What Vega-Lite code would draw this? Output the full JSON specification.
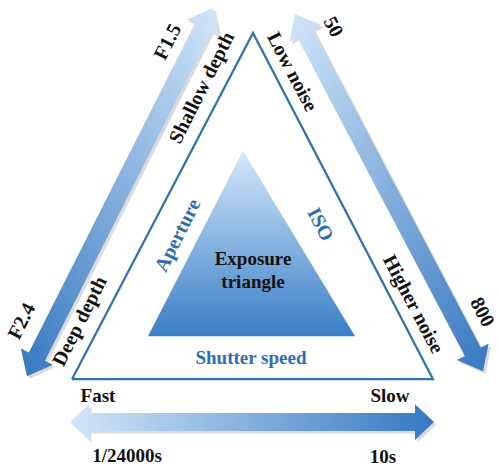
{
  "$schema": "https://vega.github.io/schema/vega-lite/v6.json",
  "width": 499,
  "height": 467,
  "autosize": {"type": "fit", "contains": "padding"},
  "padding": 0,
  "background": "white",
  "config": {"view": {"stroke": null}},
  "datasets": {
    "shapes": [
      {"shape": "outer", "i": 0, "x": 72, "y": 380},
      {"shape": "outer", "i": 1, "x": 253, "y": 33},
      {"shape": "outer", "i": 2, "x": 433, "y": 380},
      {"shape": "outer", "i": 3, "x": 72, "y": 380},
      {"shape": "inner", "i": 0, "x": 148, "y": 337},
      {"shape": "inner", "i": 1, "x": 243, "y": 151},
      {"shape": "inner", "i": 2, "x": 355, "y": 337},
      {"shape": "inner", "i": 3, "x": 148, "y": 337}
    ],
    "arrows": [
      {"arrow": "aperture", "i": 1, "x": 27, "y": 377},
      {"arrow": "aperture", "i": 2, "x": 52.97, "y": 365.45},
      {"arrow": "aperture", "i": 3, "x": 44.94, "y": 361.4},
      {"arrow": "aperture", "i": 4, "x": 211.14, "y": 31.7},
      {"arrow": "aperture", "i": 5, "x": 219.17, "y": 35.75},
      {"arrow": "aperture", "i": 6, "x": 213, "y": 8},
      {"arrow": "aperture", "i": 7, "x": 187.03, "y": 19.55},
      {"arrow": "aperture", "i": 8, "x": 195.06, "y": 23.6},
      {"arrow": "aperture", "i": 9, "x": 28.86, "y": 353.3},
      {"arrow": "aperture", "i": 10, "x": 20.83, "y": 349.25},
      {"arrow": "aperture", "i": 11, "x": 27, "y": 377},
      {"arrow": "iso", "i": 1, "x": 295, "y": 14},
      {"arrow": "iso", "i": 2, "x": 289.29, "y": 41.85},
      {"arrow": "iso", "i": 3, "x": 297.26, "y": 37.66},
      {"arrow": "iso", "i": 4, "x": 464.8, "y": 356.7},
      {"arrow": "iso", "i": 5, "x": 456.83, "y": 360.89},
      {"arrow": "iso", "i": 6, "x": 483, "y": 372},
      {"arrow": "iso", "i": 7, "x": 488.71, "y": 344.15},
      {"arrow": "iso", "i": 8, "x": 480.74, "y": 348.34},
      {"arrow": "iso", "i": 9, "x": 313.2, "y": 29.3},
      {"arrow": "iso", "i": 10, "x": 321.17, "y": 25.11},
      {"arrow": "iso", "i": 11, "x": 295, "y": 14},
      {"arrow": "shutter", "i": 1, "x": 70, "y": 423},
      {"arrow": "shutter", "i": 2, "x": 89, "y": 441},
      {"arrow": "shutter", "i": 3, "x": 89, "y": 432},
      {"arrow": "shutter", "i": 4, "x": 415, "y": 432},
      {"arrow": "shutter", "i": 5, "x": 415, "y": 441},
      {"arrow": "shutter", "i": 6, "x": 434, "y": 423},
      {"arrow": "shutter", "i": 7, "x": 415, "y": 405},
      {"arrow": "shutter", "i": 8, "x": 415, "y": 414},
      {"arrow": "shutter", "i": 9, "x": 89, "y": 414},
      {"arrow": "shutter", "i": 10, "x": 89, "y": 405},
      {"arrow": "shutter", "i": 11, "x": 70, "y": 423}
    ],
    "labels": [
      {"text": "F1.5", "x": 168, "y": 42, "side": "left", "role": "label"},
      {"text": "Shallow depth", "x": 202, "y": 88, "side": "left", "role": "label"},
      {"text": "Deep depth", "x": 80, "y": 322, "side": "left", "role": "label"},
      {"text": "F2.4", "x": 22, "y": 322, "side": "left", "role": "label"},
      {"text": "Aperture", "x": 178, "y": 236, "side": "left", "role": "factor"},
      {"text": "50", "x": 333, "y": 27, "side": "right", "role": "label"},
      {"text": "Low noise", "x": 292, "y": 72, "side": "right", "role": "label"},
      {"text": "Higher noise", "x": 413, "y": 305, "side": "right", "role": "label"},
      {"text": "800", "x": 482, "y": 313, "side": "right", "role": "label"},
      {"text": "ISO", "x": 320, "y": 225, "side": "right", "role": "factor"},
      {"text": "Fast", "x": 98, "y": 397, "side": "base", "role": "label"},
      {"text": "Slow", "x": 390, "y": 397, "side": "base", "role": "label"},
      {"text": "1/24000s", "x": 127, "y": 457, "side": "base", "role": "label"},
      {"text": "10s", "x": 383, "y": 458, "side": "base", "role": "label"},
      {"text": "Exposure", "x": 253, "y": 260, "side": "base", "role": "label"},
      {"text": "triangle", "x": 253, "y": 283, "side": "base", "role": "label"},
      {"text": "Shutter speed", "x": 251, "y": 359, "side": "base", "role": "factor"}
    ]
  },
  "encoding": {
    "x": {"field": "x", "type": "quantitative", "scale": {"domain": [0, 499], "nice": false, "zero": false}, "axis": null},
    "y": {"field": "y", "type": "quantitative", "scale": {"domain": [0, 467], "nice": false, "zero": false, "reverse": true}, "axis": null}
  },
  "layer": [
    {
      "data": {"name": "arrows"},
      "mark": {"type": "line", "fill": "#888888", "fillOpacity": 0.3, "stroke": null, "strokeWidth": 0, "xOffset": 2.5, "yOffset": 2.5},
      "encoding": {"detail": {"field": "arrow"}, "order": {"field": "i", "type": "quantitative"}}
    },
    {
      "data": {"name": "arrows"},
      "transform": [{"filter": "datum.arrow === 'aperture'"}],
      "mark": {"type": "line", "strokeWidth": 0, "stroke": null,
        "fill": {"gradient": "linear", "x1": 1, "y1": 0, "x2": 0, "y2": 1,
          "stops": [{"offset": 0, "color": "#d2e6f8"}, {"offset": 1, "color": "#3678c1"}]}},
      "encoding": {"order": {"field": "i", "type": "quantitative"}}
    },
    {
      "data": {"name": "arrows"},
      "transform": [{"filter": "datum.arrow === 'iso'"}],
      "mark": {"type": "line", "strokeWidth": 0, "stroke": null,
        "fill": {"gradient": "linear", "x1": 0, "y1": 0, "x2": 1, "y2": 1,
          "stops": [{"offset": 0, "color": "#d2e6f8"}, {"offset": 1, "color": "#3678c1"}]}},
      "encoding": {"order": {"field": "i", "type": "quantitative"}}
    },
    {
      "data": {"name": "arrows"},
      "transform": [{"filter": "datum.arrow === 'shutter'"}],
      "mark": {"type": "line", "strokeWidth": 0, "stroke": null,
        "fill": {"gradient": "linear", "x1": 0, "y1": 0, "x2": 1, "y2": 0,
          "stops": [{"offset": 0, "color": "#d2e6f8"}, {"offset": 1, "color": "#3678c1"}]}},
      "encoding": {"order": {"field": "i", "type": "quantitative"}}
    },
    {
      "data": {"name": "shapes"},
      "transform": [{"filter": "datum.shape === 'outer'"}],
      "mark": {"type": "line", "stroke": "#2f6fb3", "strokeWidth": 2.2, "fill": "white", "strokeJoin": "miter"},
      "encoding": {"order": {"field": "i", "type": "quantitative"}}
    },
    {
      "data": {"name": "shapes"},
      "transform": [{"filter": "datum.shape === 'inner'"}],
      "mark": {"type": "line", "strokeWidth": 0, "stroke": null,
        "fill": {"gradient": "linear", "x1": 0, "y1": 0, "x2": 0, "y2": 1,
          "stops": [{"offset": 0, "color": "#d4e8fa"}, {"offset": 1, "color": "#3a7ec6"}]}},
      "encoding": {"order": {"field": "i", "type": "quantitative"}}
    },
    {
      "data": {"name": "labels"},
      "transform": [{"filter": "datum.side === 'left'"}],
      "mark": {"type": "text", "angle": 296.7, "font": "Liberation Serif", "fontWeight": "bold", "fontSize": 20, "align": "center", "baseline": "middle"},
      "encoding": {"text": {"field": "text"}, "color": {"field": "role", "type": "nominal", "scale": {"domain": ["label", "factor"], "range": ["#111111", "#2e6db4"]}, "legend": null}}
    },
    {
      "data": {"name": "labels"},
      "transform": [{"filter": "datum.side === 'right'"}],
      "mark": {"type": "text", "angle": 62.3, "font": "Liberation Serif", "fontWeight": "bold", "fontSize": 20, "align": "center", "baseline": "middle"},
      "encoding": {"text": {"field": "text"}, "color": {"field": "role", "type": "nominal", "scale": {"domain": ["label", "factor"], "range": ["#111111", "#2e6db4"]}, "legend": null}}
    },
    {
      "data": {"name": "labels"},
      "transform": [{"filter": "datum.side === 'base'"}],
      "mark": {"type": "text", "font": "Liberation Serif", "fontWeight": "bold", "fontSize": 19, "align": "center", "baseline": "middle"},
      "encoding": {"text": {"field": "text"}, "color": {"field": "role", "type": "nominal", "scale": {"domain": ["label", "factor"], "range": ["#111111", "#2e6db4"]}, "legend": null}}
    }
  ]
}
